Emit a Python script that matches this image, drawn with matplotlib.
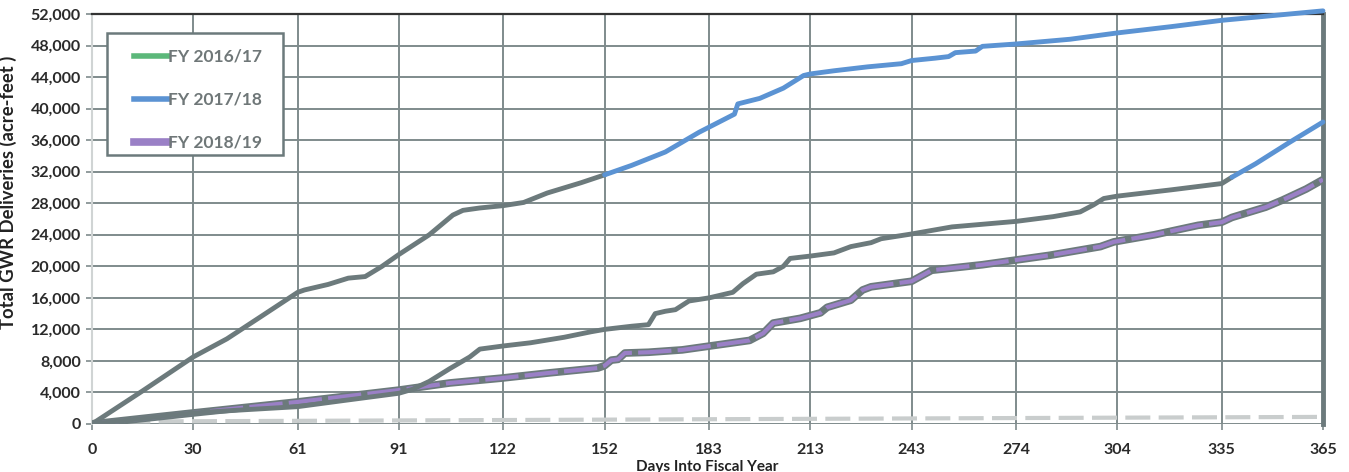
import matplotlib
matplotlib.use("Agg")
import matplotlib.pyplot as plt
from matplotlib.lines import Line2D
from matplotlib.patches import Rectangle
import numpy as np

plt.rcParams['font.family'] = ['Lato', 'DejaVu Sans']

# ---------------- data ----------------
x_ticks = [0, 30, 61, 91, 122, 152, 183, 213, 243, 274, 304, 335, 365]
y_ticks = list(range(0, 52001, 4000))

legend_labels = ["FY 2016/17", "FY 2017/18", "FY 2018/19"]

# upper line (grey in scan until ~day 152, then blue)
days_a = [0, 5, 15, 30, 40, 50, 61, 63, 70, 76, 81, 86, 91, 100, 107, 110, 115, 122, 128,
          135, 145, 152, 160, 170, 180, 190.5, 191.5, 198, 205, 211, 213, 220, 230, 240,
          243, 250, 254, 256, 262, 264, 274, 290, 304, 320, 335, 350, 365]
vals_a = [0, 1400, 4200, 8500, 10800, 13600, 16700, 17000, 17700, 18500, 18700, 20000,
          21500, 24000, 26500, 27100, 27400, 27700, 28100, 29300, 30600, 31600, 32800,
          34500, 37000, 39300, 40600, 41300, 42600, 44200, 44400, 44800, 45300, 45700,
          46100, 46400, 46600, 47100, 47300, 47900, 48200, 48800, 49600, 50400, 51200,
          51800, 52400]
switch_a = 152

# middle line (grey until ~day 338, then blue)
days_b = [0, 15, 30, 45, 61, 75, 91, 95, 100, 106, 112, 115, 122, 130, 140, 148, 152, 160,
          165, 167, 170, 173, 177, 183, 190, 193, 197, 202, 205, 207, 213, 220, 225, 231,
          234, 243, 255, 274, 285, 293, 297, 300, 304, 320, 335, 338, 345, 355, 365]
vals_b = [0, 700, 1400, 1800, 2200, 3000, 3900, 4400, 5400, 7000, 8500, 9500, 9900, 10300,
          11000, 11700, 12000, 12400, 12600, 14000, 14300, 14500, 15600, 16000, 16700,
          17800, 19000, 19300, 20000, 21000, 21300, 21700, 22500, 23000, 23500, 24100,
          25000, 25700, 26300, 26900, 27800, 28600, 28900, 29700, 30500, 31300, 33000,
          35700, 38300]
switch_b = 338

# FY 2018/19 (purple)
days_c = [0, 30, 61, 91, 106, 121, 136, 150, 152, 154, 156, 158, 165, 175, 185, 195, 199,
          202, 210, 216, 218, 225, 228.5, 231, 239.5, 243, 249, 264, 284, 299, 303, 315,
          328, 335, 338, 348, 353, 360, 365]
vals_c = [0, 1400, 2800, 4300, 5200, 5800, 6500, 7100, 7400, 8100, 8200, 9000, 9100, 9400,
          10000, 10600, 11500, 12800, 13400, 14100, 14800, 15700, 17000, 17400, 17900,
          18100, 19500, 20200, 21400, 22500, 23100, 24000, 25200, 25600, 26200, 27500,
          28400, 29800, 31000]

# faint line near zero
days_d = [0, 120, 240, 365]
vals_d = [300, 500, 700, 900]

# ---------------- style ----------------
GREY = "#6c7a7c"
BLUE = "#5b93d3"
PURPLE = "#9a80c6"
GREEN = "#5cb87a"
GRID = "#7f8b8c"

fig = plt.figure(figsize=(13.49, 4.72), dpi=100)
ax = fig.add_axes([0.0682, 0.1017, 0.9807 - 0.0682, 0.9703 - 0.1017])

ax.set_xlim(0, 365)
ax.set_ylim(0, 52000)
ax.set_xticks(x_ticks)
ax.set_yticks(y_ticks)
ax.set_xticklabels([str(t) for t in x_ticks])
ax.set_yticklabels([f"{t:,}" for t in y_ticks])
ax.grid(True, color=GRID, lw=1.4, zorder=0)
ax.set_axisbelow(True)

for lab in ax.get_xticklabels() + ax.get_yticklabels():
    lab.set_fontsize(11.5)
    lab.set_fontweight('bold')
    lab.set_color('#2a2a2a')
ax.tick_params(axis='both', colors=GRID, length=4, width=1.2)
ax.tick_params(axis='x', pad=10, labelcolor='#2a2a2a')
ax.tick_params(axis='y', pad=4, labelcolor='#2a2a2a')

ax.spines['top'].set_color('#333333')
ax.spines['top'].set_linewidth(1.6)
ax.spines['right'].set_color(GREY)
ax.spines['right'].set_linewidth(3.5)
ax.spines['left'].set_color('#d0d4d4')
ax.spines['left'].set_linewidth(1.5)
ax.spines['bottom'].set_visible(False)

# faint near-zero line
ax.plot(days_d, vals_d, color="#c9cdcd", lw=3, ls=(0, (6, 2)), zorder=2)

# purple with grey underlay
ax.plot(days_c, vals_c, color=GREY, lw=5.5, zorder=3, solid_capstyle='butt')
ax.plot(days_c, vals_c, color=PURPLE, lw=3, zorder=4, ls=(0, (8, 1.5)))

def two_tone(days, vals, switch, zorder):
    d = np.array(days, dtype=float)
    v = np.array(vals, dtype=float)
    m1 = d <= switch
    m2 = d >= switch
    ax.plot(d[m1], v[m1], color=GREY, lw=3.5, zorder=zorder, solid_capstyle='round')
    ax.plot(d[m2], v[m2], color=BLUE, lw=3.5, zorder=zorder, solid_capstyle='round',
            clip_on=False)

two_tone(days_b, vals_b, switch_b, 5)
two_tone(days_a, vals_a, switch_a, 6)

ax.set_ylabel("Total GWR Deliveries (acre-feet )", fontsize=13.3, fontweight='bold',
              color='#222222')
ax.yaxis.set_label_coords(-0.061, 0.566)
ax.set_xlabel("Days Into Fiscal Year", fontsize=11, fontweight='bold', color='#222222',
              labelpad=2)

# legend box
box = Rectangle((0.0122, 0.656), 0.143, 0.2976, transform=ax.transAxes,
                facecolor='white', edgecolor=GREY, lw=1.8, zorder=9)
ax.add_patch(box)

handles = [Line2D([0], [0], color=GREEN, lw=4),
           Line2D([0], [0], color=BLUE, lw=4),
           Line2D([0], [0], color=PURPLE, lw=5.5)]
leg = ax.legend(handles, legend_labels, loc='upper left', bbox_to_anchor=(0.0341, 0.915),
                frameon=False, handlelength=1.95, handletextpad=0.0,
                labelspacing=1.55, borderpad=0, borderaxespad=0,
                prop={'size': 12.5, 'weight': 'bold'})
for t in leg.get_texts():
    t.set_color('#6f7778')
leg.set_zorder(10)

fig.savefig("out.png", dpi=100)
